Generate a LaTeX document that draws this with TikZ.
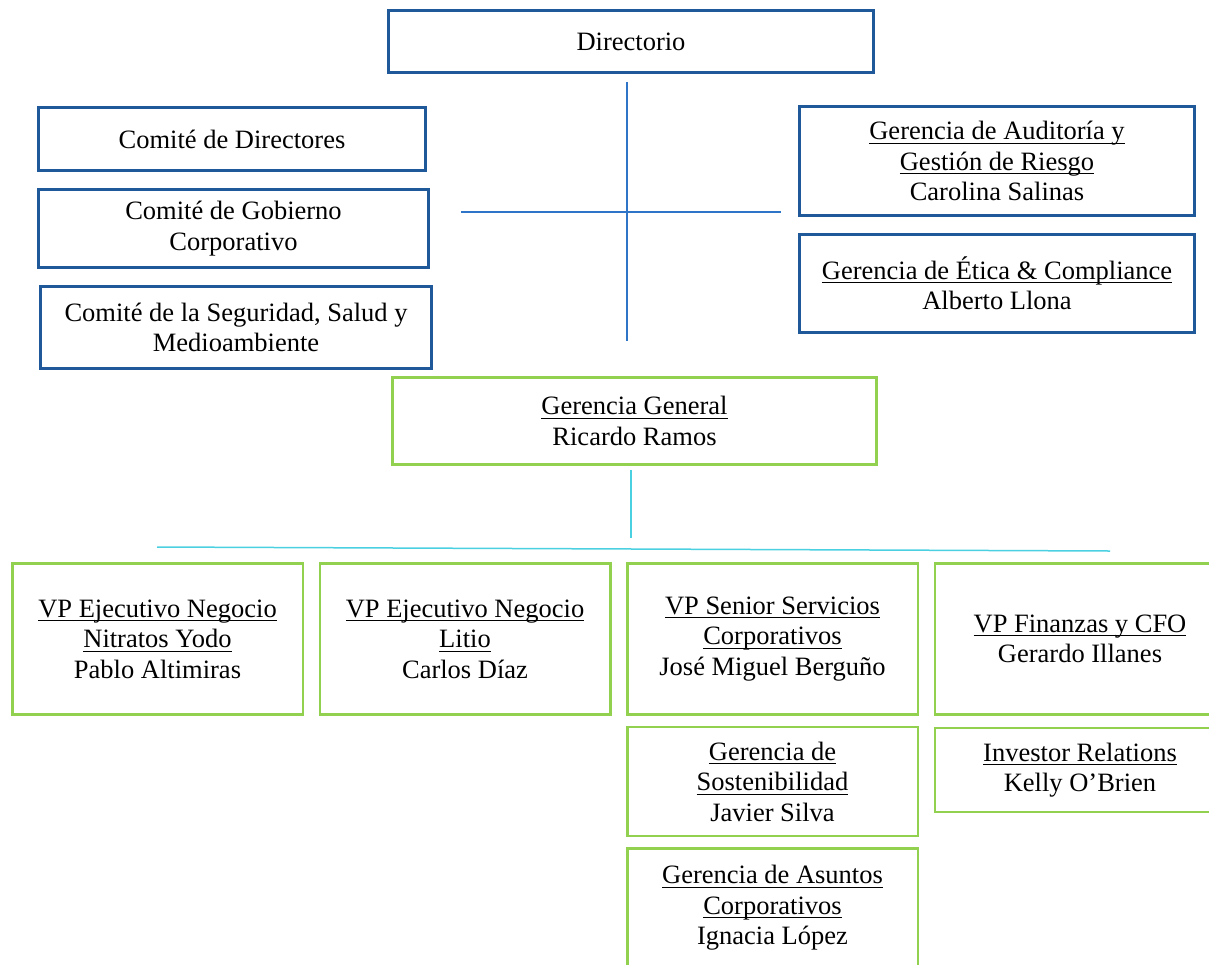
\documentclass[tikz,border=0pt]{standalone}
\usepackage{amsmath}
\usepackage{fontspec}
\setmainfont{Liberation Serif}
\usetikzlibrary{positioning}
\definecolor{dirblue}{RGB}{31,89,153}
\definecolor{mgrgreen}{RGB}{146,208,80}
\definecolor{linkblue}{RGB}{46,117,200}
\definecolor{linkcyan}{RGB}{75,208,225}
\newcommand{\undl}[1]{\underline{\smash[b]{#1}}}
\tikzset{
board/.style={rectangle,draw=dirblue,line width=2.5pt,
align=center,inner sep=2pt,font=\fontsize{26.5}{30.5}\selectfont},
mgr/.style={rectangle,draw=mgrgreen,line width=2.5pt,
align=center,inner sep=2pt,font=\fontsize{26.5}{30.5}\selectfont},
vp/.style={mgr,minimum width=290.5pt,minimum height=151pt},
sub/.style={mgr,minimum width=290.5pt},
link/.style={draw=linkblue,line width=1.5pt},
linkvp/.style={draw=linkcyan,line width=1.5pt}
}

\begin{document}
\begin{tikzpicture}[x=1pt,y=-1pt]
\useasboundingbox (0,0) rectangle (1209,964);
\clip (0,0) rectangle (1209,964);

\node[board,minimum width=485pt,minimum height=62pt] (Dir) at (631,41.5) {Directorio};

\node[board,minimum width=387pt,minimum height=63pt] (ComDir) at (232,139) {Comité de Directores};
\node[board,minimum width=390pt,minimum height=78pt] (ComGob) at (233.5,228.5) {Comité de Gobierno\\Corporativo};
\node[board,minimum width=391pt,minimum height=82pt] (ComSeg) at (236,327.5) {Comité de la Seguridad, Salud y\\Medioambiente};

\node[board,minimum width=395pt,minimum height=109pt] (GerAud) at (997,161) {\undl{Gerencia de Auditoría y}\\\undl{Gestión de Riesgo}\\Carolina Salinas};
\node[board,minimum width=395pt,minimum height=98pt] (GerEtica) at (997,283.5) {\undl{Gerencia de Ética \& Compliance}\\Alberto Llona};

\node[mgr,minimum width=484pt,minimum height=87pt] (GerGen) at (634.5,421) {\undl{Gerencia General}\\Ricardo Ramos};

\node[vp] (VP1) at (157.5,639) {\undl{VP Ejecutivo Negocio}\\\undl{Nitratos Yodo}\\Pablo Altimiras};
\node[vp,right=14.5pt of VP1] (VP2) {\undl{VP Ejecutivo Negocio}\\\undl{Litio}\\Carlos Díaz};
\node[vp,right=14.5pt of VP2] (VP3) {\undl{VP Senior Servicios}\\\undl{Corporativos}\\José Miguel Berguño};
\node[vp,right=14.5pt of VP3] (VP4) {\undl{VP Finanzas y CFO}\\Gerardo Illanes};

\node[sub,minimum height=109pt,below=10pt of VP3] (GerSost) {\undl{Gerencia de}\\\undl{Sostenibilidad}\\Javier Silva};
\node[sub,minimum height=119pt,below=10pt of GerSost] (GerAsun) {\undl{Gerencia de Asuntos}\\\undl{Corporativos}\\Ignacia López};
\node[sub,minimum height=84pt,below=11pt of VP4] (InvRel) {\undl{Investor Relations}\\Kelly O’Brien};

\coordinate (crossT) at (627,82);
\coordinate (crossB) at (627,341);
\coordinate (crossL) at (461,212);
\coordinate (crossR) at (781,212);
\draw[link] (crossT) -- (crossB);
\draw[link] (crossL) -- (crossR);

\coordinate (ggT) at (631,470);
\coordinate (ggB) at (631,538);
\coordinate (vpL) at (157,547);
\coordinate (vpR) at (1110,551);
\draw[linkvp] (ggT) -- (ggB);
\draw[linkvp] (vpL) -- (vpR);
\end{tikzpicture}
\end{document}
